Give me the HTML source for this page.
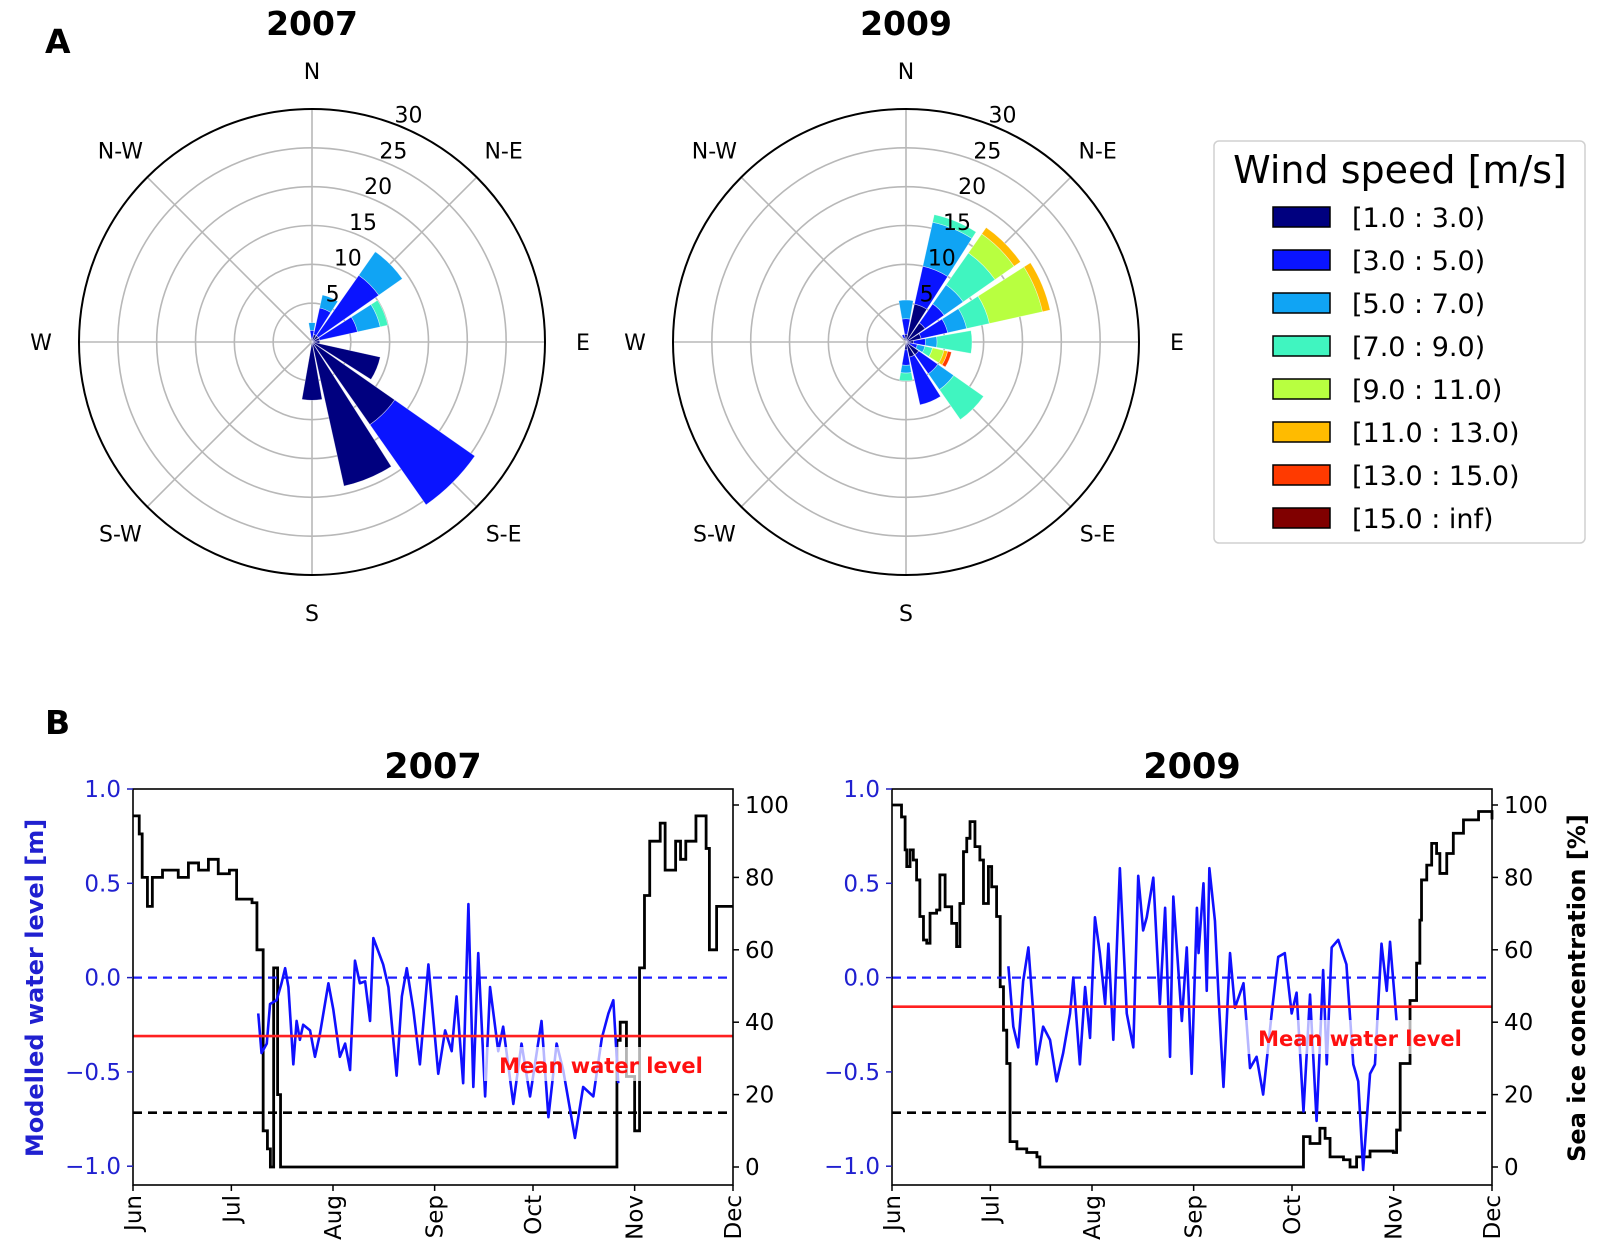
<!DOCTYPE html>
<html><head><meta charset="utf-8"><style>
html,body{margin:0;padding:0;background:#fff}
svg{display:block;font-family:"DejaVu Sans","Liberation Sans",sans-serif}
</style></head><body>
<svg id="fig" width="1606" height="1258" viewBox="0 0 1606 1258" xmlns="http://www.w3.org/2000/svg">
<text x="45" y="53" font-size="33" font-weight="bold">A</text>
<text x="45" y="734" font-size="33" font-weight="bold">B</text>
<g id="roses"></g>
<g id="legend"></g>
<g id="series"></g>
</svg>
<script>
// ---------- Wind rose data ----------
const dirNames = ["N","NNE","NE","ENE","E","ESE","SE","SSE","S","SSW","SW","WSW","W","WNW","NW","NNW"];
const speedBins = ["[1.0 : 3.0)","[3.0 : 5.0)","[5.0 : 7.0)","[7.0 : 9.0)","[9.0 : 11.0)","[11.0 : 13.0)","[13.0 : 15.0)","[15.0 : inf)"];
const binColors = ["#00007f","#0a14ff","#10a4f4","#40f5c0","#b8ff40","#ffbb00","#ff3a00","#800000"];
const rose2007 = [[0.5,1,1],[1,3.5,1.7],[1,9.5,3.7],[1,5,3,1],[1],[9],[13,12.6],[19],[7.5],[],[],[],[],[],[],[]];
const rose2009 = [[1,2,2.4],[5,5,5.8,1],[3,3,3,5,3,1],[2,3.5,2.5,3,7,1],[1,1.5,1.5,4.5],[0.5,1,1,1,1.5,0.5,0.5],[2,3,2.5,4.7],[2,6.3],[1,2,1,1],[],[],[],[],[],[],[0.5,0.5]];
const ringValues = [5,10,15,20,25,30];
const compassLabels = ["N","N-E","E","S-E","S","S-W","W","N-W"];
const roseTitles = ["2007","2009"];

// ---------- Time series data ----------
const monthLabels = ["Jun","Jul","Aug","Sep","Oct","Nov","Dec"];
const monthDays = [0,30,61,92,122,153,183];
const leftTicks = [1.0,0.5,0.0,-0.5,-1.0];
const rightTicks = [0,20,40,60,80,100];
const plotTitles = ["2007","2009"];
const meanLevels = [-0.31,-0.154];
const iceThreshold = 15;

const ice2007Days = [0,1.9,2.8,4.4,5.9,9,13.8,16.9,20,23,26,29.4,31.6,36.3,37.8,39.7,41,41.9,42.9,44.1,45,147.6,148.6,150.5,153,154.5,156,157.6,160.8,162.3,165.5,167,168.6,171.7,174.8,175.8,178,179.9,181,183];
const ice2007Vals = [97,92,80,72,80,82,80,84,82,85,81,82,74,73,60,10,5,0,55,20,0,35,40,25,10,55,75,90,95,82,90,85,90,97,88,60,72,72,72,72];
const wl2007Days = [38.2,39.2,40.8,41.8,43.8,45.3,46.4,47.4,48.9,49.9,50.9,51.9,54.0,55.5,57.0,59.6,61.1,63.1,64.7,66.2,67.7,69.2,70.8,72.3,73.3,74.8,76.3,77.9,80.4,82.0,83.5,85.5,87.5,90.1,93.1,95.2,97.2,98.7,100.7,102.3,103.8,105.3,107.4,108.9,111.4,112.9,116.0,118.5,121.1,124.6,126.7,129.2,131.2,134.8,137.3,140.4,143.0,145.0,146.5,148.0];
const wl2007Vals = [-0.19,-0.40,-0.35,-0.14,-0.12,-0.03,0.05,-0.05,-0.46,-0.23,-0.33,-0.25,-0.28,-0.42,-0.30,-0.03,-0.17,-0.42,-0.35,-0.49,0.09,-0.03,-0.02,-0.23,0.21,0.14,0.07,-0.05,-0.52,-0.10,0.05,-0.17,-0.46,0.07,-0.51,-0.28,-0.39,-0.10,-0.56,0.39,-0.58,0.13,-0.63,-0.05,-0.39,-0.26,-0.67,-0.35,-0.63,-0.23,-0.74,-0.35,-0.49,-0.85,-0.58,-0.63,-0.32,-0.19,-0.12,-0.56];

const ice2009Days = [0,2.4,2.9,4.0,4.5,5.5,6.5,7.5,8.5,9.6,10.6,11.6,13.6,14.6,16.2,18.2,19.7,20.7,21.8,22.8,23.8,25.3,26.8,27.9,29.4,30.4,31.9,33.0,34.0,35.0,36.0,38.1,41.1,44.2,45.1,124.4,125.5,127.5,130.5,132.1,133.6,137.7,139.7,141.7,145.8,152.9,153.9,155.0,158.0,160.0,161.0,161.5,163.1,164.6,166.1,167.1,169.2,171.2,174.3,178.9,183];
const ice2009Vals = [100,100,96.7,87.6,83,87.6,84.8,79.3,69.2,62.7,61.8,70.1,71,80.7,71.9,67.3,60.9,72.8,87.1,90.8,95.4,88.5,84.8,72.8,83,77.4,69.2,49.8,37.8,28.6,7,5,4,2.8,0,0,8.4,6.5,10.7,7.9,2.8,2,0,2.8,4.4,4,10.2,28.6,46,56.3,68.2,79.3,83.4,89.4,86.6,81.1,86.6,92.2,95.9,98.2,96];
const wl2009Days = [35.5,37.0,38.5,40.0,41.6,43.1,44.1,46.1,48.2,50.2,52.2,54.3,55.3,57.3,58.9,60.4,61.9,63.4,65.0,66.0,67.5,69.5,71.6,73.6,75.1,76.6,77.7,79.7,81.7,83.3,84.8,85.8,88.4,89.9,91.4,93.0,93.5,95.0,96.0,96.8,98.5,99.6,101.1,103.1,104.6,107.2,109.2,111.2,113.2,115.8,117.8,119.8,121.9,123.4,125.5,127.5,129.5,131.5,132.6,134.1,136.1,138.6,140.7,142.2,143.7,145.8,147.3,149.3,150.9,151.9,153.9];
const wl2009Vals = [0.06,-0.26,-0.37,-0.02,0.16,-0.19,-0.46,-0.26,-0.33,-0.55,-0.40,-0.19,0.0,-0.46,-0.05,-0.32,0.32,0.13,-0.14,0.18,-0.33,0.58,-0.19,-0.37,0.54,0.25,0.32,0.53,-0.14,0.37,-0.42,0.43,-0.23,0.16,-0.51,0.37,0.13,0.50,-0.07,0.58,0.30,-0.10,-0.58,0.13,-0.16,-0.03,-0.48,-0.42,-0.62,-0.19,0.11,0.13,-0.19,-0.08,-0.71,-0.09,-0.76,0.04,-0.46,0.16,0.20,0.07,-0.46,-0.55,-1.02,-0.51,-0.46,0.18,-0.07,0.19,-0.23];

const NS = "http://www.w3.org/2000/svg";
function mk(tag, attrs, parent){
  const e = document.createElementNS(NS, tag);
  for (const k in attrs) e.setAttribute(k, attrs[k]);
  if (parent) parent.appendChild(e);
  return e;
}

// ---------- Wind roses ----------
const roses = document.getElementById('roses');
const roseCenters = [[312,342],[906,342]];
const roseData = [rose2007, rose2009];
const pxPerUnit = 233/30;
function rr(v){ return v*pxPerUnit; }
function pt(cx,cy,r,deg){ const a=deg*Math.PI/180; return [cx+r*Math.sin(a), cy-r*Math.cos(a)]; }

roseCenters.forEach((c, ri) => {
  const [cx, cy] = c;
  const g = mk('g', {}, roses);
  
  
  const t = mk('text', {x:cx, y:35, 'font-size':33, 'font-weight':'bold', 'text-anchor':'middle'}, g);
  t.textContent = roseTitles[ri];
  
  
  for (let k=0;k<8;k++){
    const p = pt(cx,cy,rr(30),k*45);
    const l = mk('line',{x1:cx,y1:cy,x2:p[0],y2:p[1],stroke:'#b8b8b8','stroke-width':1.6},g);
    
    
  }
  ringValues.forEach((v,i)=>{
    const last = i===ringValues.length-1;
    const ci = mk('circle',{cx:cx,cy:cy,r:rr(v),fill:'none',stroke:last?'#000':'#b8b8b8','stroke-width':last?2:1.6},g);
    
    
  });
  const data = roseData[ri];
  data.forEach((bins, di) => {
    const ang = di*22.5;
    let acc = 0;
    bins.forEach((f, bi) => {
      const r0 = rr(acc), r1 = rr(acc+f);
      acc += f;
      const a0 = ang-10, a1 = ang+10;
      const p1 = pt(cx,cy,r0,a0), p2 = pt(cx,cy,r1,a0), p3 = pt(cx,cy,r1,a1), p4 = pt(cx,cy,r0,a1);
      const d = `M${p1[0]},${p1[1]} L${p2[0]},${p2[1]} A${r1},${r1} 0 0 1 ${p3[0]},${p3[1]} L${p4[0]},${p4[1]} ` + (r0>0?`A${r0},${r0} 0 0 0 ${p1[0]},${p1[1]}`:'') + 'Z';
      const b = mk('path',{d:d,fill:binColors[bi],stroke:'#ffffff','stroke-width':0.6,'stroke-opacity':0.6},g);
      
      
    });
  });
  ringValues.forEach(v=>{
    const p = pt(cx,cy,rr(v)+14,23);
    const tx = mk('text',{x:p[0],y:p[1]+8,'font-size':22,'text-anchor':'middle'},g);
    tx.textContent = v;
    
    
  });
  compassLabels.forEach((lab,k)=>{
    const p = pt(cx,cy,271,k*45);
    const tx = mk('text',{x:p[0],y:p[1]+8,'font-size':22,'text-anchor':'middle'},g);
    tx.textContent = lab;
    
    
  });
});

// ---------- Legend ----------
const leg = document.getElementById('legend');
mk('rect',{x:1214,y:141,width:371,height:402,rx:5,fill:'#fff',stroke:'#d0d0d0','stroke-width':1.5},leg);
const lt = mk('text',{x:1400,y:183,'font-size':38,'text-anchor':'middle'},leg);
lt.textContent = 'Wind speed [m/s]';


speedBins.forEach((lab,i)=>{
  const cy = 217 + i*43;
  const r = mk('rect',{x:1273,y:cy-10,width:57,height:20,fill:binColors[i],stroke:'#000','stroke-width':1.5},leg);
  
  
  const t = mk('text',{x:1352,y:cy+10,'font-size':27},leg);
  t.textContent = lab;
  
  
});

// ---------- Time series ----------
const series = document.getElementById('series');
const plotLefts = [133, 892];
const plotW = 600, plotTop = 789, plotBot = 1185;
const iceDays = [ice2007Days, ice2009Days], iceVals = [ice2007Vals, ice2009Vals];
const wlDays = [wl2007Days, wl2009Days], wlVals = [wl2007Vals, wl2009Vals];
const labelPos = [[601,1065],[1360,1038]];

plotLefts.forEach((L, pi) => {
  const g = mk('g',{},series);
  
  
  const X = d => L + d/183*plotW;
  const YL = v => plotTop + (1.0 - v)*188.6;
  const YR = p => 1167 - p*3.62;
  const R = L + plotW;

  const title = mk('text',{x:L+300,y:778,'font-size':35,'font-weight':'bold','text-anchor':'middle'},g);
  title.textContent = plotTitles[pi];
  
  

  let d = '';
  iceDays[pi].forEach((day,i)=>{
    const x = X(day), y = YR(iceVals[pi][i]);
    if (i===0) d += `M${x},${y}`;
    else d += ` H${x} V${y}`;
  });
  const ice = mk('path',{d:d,fill:'none',stroke:'#000','stroke-width':2.8,'stroke-linejoin':'miter'},g);
  
  

  const z = mk('line',{x1:L,x2:R,y1:YL(0),y2:YL(0),stroke:'#2020ff','stroke-width':2.2,'stroke-dasharray':'9,6'},g);
  
  
  const th = mk('line',{x1:L,x2:R,y1:YR(iceThreshold),y2:YR(iceThreshold),stroke:'#000','stroke-width':2.6,'stroke-dasharray':'9,6'},g);
  
  

  let wd = '';
  wlDays[pi].forEach((day,i)=>{
    wd += (i?' L':'M') + X(day) + ',' + YL(wlVals[pi][i]);
  });
  const wl = mk('path',{d:wd,fill:'none',stroke:'#1010ff','stroke-width':2.6,'stroke-linejoin':'round'},g);
  
  

  const m = mk('line',{x1:L,x2:R,y1:YL(meanLevels[pi]),y2:YL(meanLevels[pi]),stroke:'#ff2020','stroke-width':2.6},g);
  
  

  const [lx,ly] = labelPos[pi];
  mk('rect',{x:lx-117,y:ly-18,width:234,height:34,fill:'#fff','fill-opacity':0.7},g);
  const ml = mk('text',{x:lx,y:ly+8,'font-size':21,'font-weight':'bold',fill:'#ff1010','text-anchor':'middle'},g);
  ml.textContent = 'Mean water level';
  
  

  const fr = mk('rect',{x:L,y:plotTop,width:plotW,height:plotBot-plotTop,fill:'none',stroke:'#000','stroke-width':1.6},g);
  
  

  leftTicks.forEach(v=>{
    const y = YL(v);
    mk('line',{x1:L-6,x2:L,y1:y,y2:y,stroke:'#2020c0','stroke-width':1.5},g);
    const t = mk('text',{x:L-12,y:y+8,'font-size':23,fill:'#2020d0','text-anchor':'end'},g);
    t.textContent = (v<0?'\u2212':'') + Math.abs(v).toFixed(1);
    
    
  });
  rightTicks.forEach(p=>{
    const y = YR(p);
    mk('line',{x1:R,x2:R+6,y1:y,y2:y,stroke:'#000','stroke-width':1.5},g);
    const t = mk('text',{x:R+12,y:y+8,'font-size':23},g);
    t.textContent = p;
    
    
  });
  monthDays.forEach((day,i)=>{
    const x = X(day);
    mk('line',{x1:x,x2:x,y1:plotBot,y2:plotBot+6,stroke:'#000','stroke-width':1.5},g);
    const t = mk('text',{x:0,y:0,'font-size':23,'text-anchor':'end',transform:`translate(${x+8},${plotBot+10}) rotate(-90)`},g);
    t.textContent = monthLabels[i];
    
    
  });
});

const yl = mk('text',{x:0,y:0,'font-size':24,'font-weight':'bold',fill:'#2020d0','text-anchor':'middle',transform:'translate(43,988) rotate(-90)'},series);
yl.textContent = 'Modelled water level [m]';


const yr = mk('text',{x:0,y:0,'font-size':24,'font-weight':'bold','text-anchor':'middle',transform:'translate(1585,988) rotate(-90)'},series);
yr.textContent = 'Sea ice concentration [%]';


</script>
</body></html>
